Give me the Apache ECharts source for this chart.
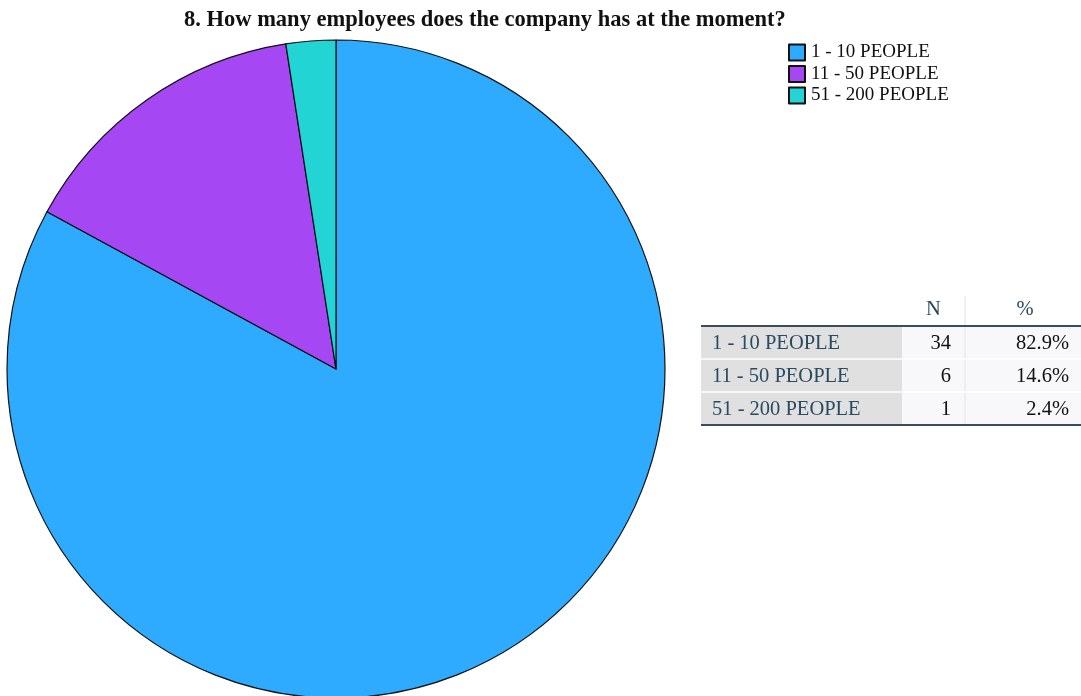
<!DOCTYPE html>
<html>
<head>
<meta charset="utf-8">
<script src="https://cdn.jsdelivr.net/npm/echarts@6/dist/echarts.min.js"></script>
<style>
  html, body { margin: 0; padding: 0; background: #fff; }
  #chart { width: 1081px; height: 696px; }
</style>
</head>
<body>
<div id="chart"></div>
<script>
// Survey answers: company headcount
const categories = ['1 - 10 PEOPLE', '11 - 50 PEOPLE', '51 - 200 PEOPLE'];
const counts = [34, 6, 1];
const percents = ['82.9%', '14.6%', '2.4%'];
const colors = ['#2eabfe', '#a547f2', '#23d4d4'];
const tableHeaders = ['N', '%'];

const SERIF = '"Liberation Serif", "DejaVu Serif", serif';

// Frequency table drawn beside the pie
function buildTable() {
  const x0 = 701, xN = 902, xP = 965, x1 = 1081;
  const headTop = 296, headBottom = 326, rowH = 33;
  const font = '20.5px ' + SERIF;
  const els = [];
  // header labels
  els.push({ type: 'text', x: (xN + xP) / 2, y: headTop + 14,
    style: { text: tableHeaders[0], font: font, fill: '#2a4a60', align: 'center', verticalAlign: 'middle' } });
  els.push({ type: 'text', x: 1025, y: headTop + 14,
    style: { text: tableHeaders[1], font: font, fill: '#2a4a60', align: 'center', verticalAlign: 'middle' } });
  // header column divider
  els.push({ type: 'line', shape: { x1: xP, y1: headTop, x2: xP, y2: headBottom },
    style: { stroke: '#e2e2e2', lineWidth: 1 } });
  categories.forEach((c, i) => {
    const y = headBottom + i * rowH;
    els.push({ type: 'rect', shape: { x: x0, y: y, width: xN - x0, height: rowH },
      style: { fill: '#e0e0e0' } });
    els.push({ type: 'rect', shape: { x: xN, y: y, width: x1 - xN, height: rowH },
      style: { fill: '#f8f8fa' } });
    els.push({ type: 'line', shape: { x1: xP, y1: y, x2: xP, y2: y + rowH },
      style: { stroke: '#e4e4e4', lineWidth: 1 } });
    if (i > 0) {
      els.push({ type: 'line', shape: { x1: x0, y1: y, x2: x1, y2: y },
        style: { stroke: '#ffffff', lineWidth: 1.5 } });
    }
    els.push({ type: 'text', x: x0 + 11, y: y + rowH / 2 + 1,
      style: { text: c, font: font, fill: '#2a4a60', verticalAlign: 'middle' } });
    els.push({ type: 'text', x: xP - 14, y: y + rowH / 2 + 1,
      style: { text: String(counts[i]), font: font, fill: '#111', align: 'right', verticalAlign: 'middle' } });
    els.push({ type: 'text', x: x1 - 12, y: y + rowH / 2 + 1,
      style: { text: percents[i], font: font, fill: '#111', align: 'right', verticalAlign: 'middle' } });
  });
  const bottom = headBottom + categories.length * rowH;
  els.push({ type: 'line', shape: { x1: x0, y1: headBottom, x2: x1, y2: headBottom },
    style: { stroke: '#3b4d5c', lineWidth: 2 } });
  els.push({ type: 'line', shape: { x1: x0, y1: bottom, x2: x1, y2: bottom },
    style: { stroke: '#3b4d5c', lineWidth: 2 } });
  return els;
}

const chart = echarts.init(document.getElementById('chart'), null, { renderer: 'canvas' });
chart.setOption({
  animation: false,
  backgroundColor: '#ffffff',
  color: colors,
  title: {
    text: '8. How many employees does the company has at the moment?',
    left: 179, top: 4,
    textStyle: { fontFamily: SERIF, fontSize: 22.5, fontWeight: 'bold', color: '#111' }
  },
  legend: {
    orient: 'vertical',
    left: 788, top: 43,
    padding: 0,
    itemWidth: 16, itemHeight: 16, itemGap: 2.5,
    icon: 'rect',
    data: categories,
    textStyle: { fontFamily: SERIF, fontSize: 19, lineHeight: 16, color: '#111', padding: [1, 0, 0, 1] }
  },
  series: [{
    type: 'pie',
    center: [336, 369],
    radius: 329,
    startAngle: 90,
    clockwise: true,
    label: { show: false },
    labelLine: { show: false },
    emphasis: { disabled: true },
    itemStyle: { borderColor: '#111', borderWidth: 1.2 },
    data: categories.map((c, i) => ({ name: c, value: counts[i] }))
  }],
  graphic: buildTable()
});
</script>
</body>
</html>
